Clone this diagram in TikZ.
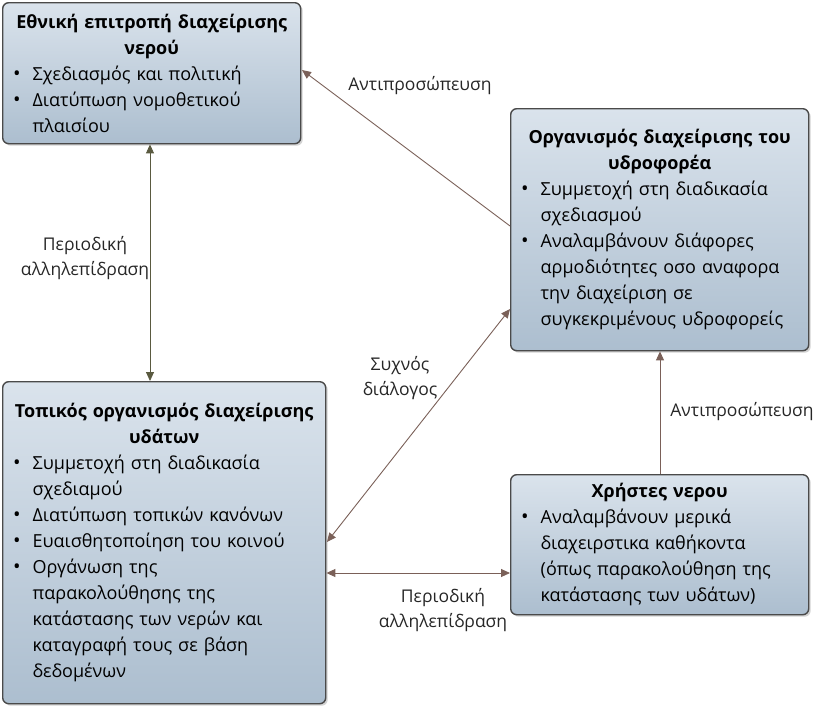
\documentclass[tikz,border=0pt]{standalone}
\usepackage{fontspec}
\setmainfont{Open Sans}
\usepackage{enumitem}
\usetikzlibrary{arrows.meta,shadows}
\setlist[itemize]{leftmargin=26pt,labelsep=12pt,itemsep=0pt,topsep=0pt,parsep=0pt,partopsep=0pt,label={\fontsize{20}{20}\selectfont\textbullet}}
\definecolor{bord}{HTML}{4A4A4A}
\definecolor{brn}{HTML}{7A6058}
\definecolor{olv}{HTML}{5A5A40}
\tikzset{
  box/.style={draw=bord,line width=1.4pt,rounded corners=6pt,
    top color={rgb,255:red,218;green,227;blue,236},bottom color={rgb,255:red,172;green,190;blue,207},
    drop shadow={shadow xshift=2pt,shadow yshift=-2pt,opacity=0.35},
    anchor=north west,inner xsep=4pt,inner ysep=3pt,
    font=\fontsize{18}{26}\selectfont,align=left},
  lbl/.style={font=\fontsize{17.5}{25}\selectfont,align=center,text=black!85},
  arr/.style={draw=brn,line width=0.9pt,-{Triangle[length=9pt,width=8pt]}},
  darr/.style={draw=brn,line width=0.9pt,{Triangle[length=9pt,width=8pt]}-{Triangle[length=9pt,width=8pt]}}
}
\begin{document}
\begin{tikzpicture}[x=1pt,y=-1pt]
\useasboundingbox (0,0) rectangle (825,707);
\node[box,text width=290pt,minimum width=298pt,minimum height=141pt] (a) at (2,2) {%
\centering\textbf{Εθνική επιτροπή διαχείρισης\\νερού}\par\raggedright
\begin{itemize}
\item Σχεδιασμός και πολιτική
\item Διατύπωση νομοθετικού\\πλαισίου
\end{itemize}\vspace{4pt}};
\node[box,text width=290pt,minimum width=298pt,minimum height=242pt] (b) at (510,108) {%
\centering\textbf{Οργανισμός διαχείρισης του\\υδροφορέα}\par\raggedright
\begin{itemize}
\item Συμμετοχή στη διαδικασία\\σχεδιασμού
\item Αναλαμβάνουν διάφορες\\αρμοδιότητες οσο αναφορα\\την διαχείριση σε\\συγκεκριμένους υδροφορείς
\end{itemize}\vspace{20pt}};
\node[box,text width=315pt,minimum width=323pt,minimum height=322pt] (c) at (2,381) {%
\centering\textbf{Τοπικός οργανισμός διαχείρισης\\υδάτων}\par\raggedright
\begin{itemize}
\item Συμμετοχή στη διαδικασία\\σχεδιαμού
\item Διατύπωση τοπικών κανόνων
\item Ευαισθητοποίηση του κοινού
\item Οργάνωση της\\παρακολούθησης της\\κατάστασης των νερών και\\καταγραφή τους σε βάση\\δεδομένων
\end{itemize}};
\node[box,text width=290pt,minimum width=298pt,minimum height=140pt] (d) at (510,474) {%
\centering\textbf{Χρήστες νερου}\par\raggedright
\begin{itemize}
\item Αναλαμβάνουν μερικά\\διαχειρστικα καθήκοντα\\(όπως παρακολούθηση της\\κατάστασης των υδάτων)
\end{itemize}\vspace{6pt}};
\draw[darr,draw=olv] (a.south -| 150,0) -- (c.north -| 150,0);
\node[lbl] (l1) at (85,258) {Περιοδική\\αλληλεπίδραση};
\coordinate (b1) at (510,226);
\draw[arr] (b1) -- (302,70);
\node[lbl] (l2) at (420,86) {Αντιπροσώπευση};
\coordinate (c1) at (327,542);
\coordinate (b2) at (510,309);
\draw[darr] (c1) -- (b2);
\node[lbl] (l3) at (400,378) {Συχνός\\διάλογος};
\draw[arr] (d.north -| 660,0) -- (b.south -| 660,0);
\node[lbl] (l4) at (742,412) {Αντιπροσώπευση};
\draw[darr] (c.east |- 0,573) -- (d.west |- 0,573);
\node[lbl] (l5) at (443,610) {Περιοδική\\αλληλεπίδραση};
\end{tikzpicture}
\end{document}
